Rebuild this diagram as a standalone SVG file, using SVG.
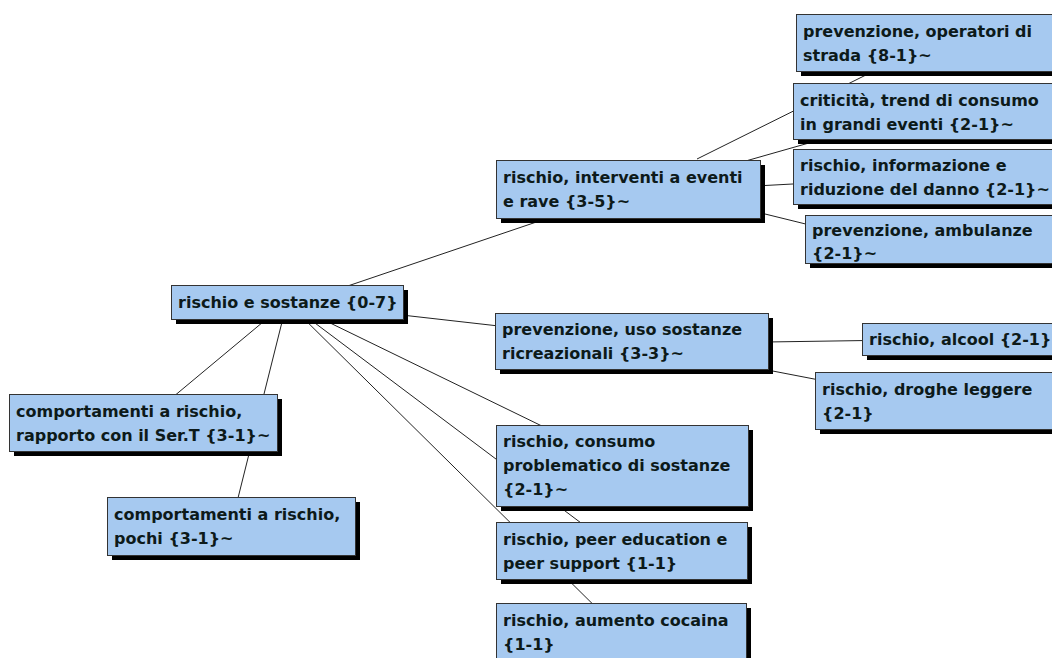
<svg xmlns="http://www.w3.org/2000/svg" width="1052" height="658" viewBox="0 0 1052 658">
  <defs>
    <style>
      .edge { stroke: #222; stroke-width: 1; fill: none; }
      .shadow { fill: #000; }
      .box { fill: #a6c9f0; stroke: #333; stroke-width: 1; }
      .label { font-family: "DejaVu Sans", Verdana, sans-serif; font-weight: bold; font-size: 16px; fill: #0d1a1a; }
    </style>
  </defs>
  <rect width="1052" height="658" fill="#fff"/>

  <!-- connectors (drawn first, nodes cover the inner parts) -->
  <g id="connectors">
    <line class="edge" x1="330" y1="292" x2="560" y2="214"/>
    <line class="edge" x1="287" y1="302" x2="631" y2="341"/>
    <line class="edge" x1="287" y1="302" x2="143" y2="422"/>
    <line class="edge" x1="287" y1="302" x2="231" y2="526"/>
    <line class="edge" x1="287" y1="302" x2="622" y2="465"/>
    <line class="edge" x1="287" y1="302" x2="617" y2="550"/>
    <line class="edge" x1="287" y1="302" x2="621" y2="632"/>
    <line class="edge" x1="697" y1="159" x2="880" y2="68"/>
    <line class="edge" x1="700" y1="174" x2="830" y2="137"/>
    <line class="edge" x1="700" y1="189" x2="830" y2="182"/>
    <line class="edge" x1="700" y1="198" x2="830" y2="230"/>
    <line class="edge" x1="700" y1="343" x2="900" y2="340"/>
    <line class="edge" x1="700" y1="357" x2="840" y2="384"/>
  </g>

  <g id="n-root">
    <rect class="shadow" x="176" y="290" width="232" height="34"/>
    <rect class="box" x="171.5" y="285.5" width="232" height="34"/>
    <text class="label" x="178" y="308">rischio e sostanze {0-7}</text>
  </g>

  <g id="n-eventi">
    <rect class="shadow" x="501" y="165" width="264" height="58"/>
    <rect class="box" x="496.5" y="160.5" width="264" height="58"/>
    <text class="label" x="503" y="183">rischio, interventi a eventi</text>
    <text class="label" x="503" y="207">e rave {3-5}~</text>
  </g>

  <g id="n-operatori">
    <rect class="shadow" x="801" y="19" width="300" height="57"/>
    <rect class="box" x="796.5" y="14.5" width="300" height="57"/>
    <text class="label" x="803" y="37">prevenzione, operatori di</text>
    <text class="label" x="803" y="61">strada {8-1}~</text>
  </g>

  <g id="n-criticita">
    <rect class="shadow" x="798" y="88" width="300" height="56"/>
    <rect class="box" x="793.5" y="83.5" width="300" height="56"/>
    <text class="label" x="800" y="106">criticità, trend di consumo</text>
    <text class="label" x="800" y="130">in grandi eventi {2-1}~</text>
  </g>

  <g id="n-informazione">
    <rect class="shadow" x="798" y="154" width="300" height="55"/>
    <rect class="box" x="793.5" y="149.5" width="300" height="55"/>
    <text class="label" x="800" y="171">rischio, informazione e</text>
    <text class="label" x="800" y="195">riduzione del danno {2-1}~</text>
  </g>

  <g id="n-ambulanze">
    <rect class="shadow" x="810" y="220" width="300" height="48"/>
    <rect class="box" x="805.5" y="215.5" width="300" height="48"/>
    <text class="label" x="812" y="236">prevenzione, ambulanze</text>
    <text class="label" x="812" y="259">{2-1}~</text>
  </g>

  <g id="n-ricreazionali">
    <rect class="shadow" x="500" y="318" width="273" height="56"/>
    <rect class="box" x="495.5" y="313.5" width="273" height="56"/>
    <text class="label" x="502" y="335">prevenzione, uso sostanze</text>
    <text class="label" x="502" y="359">ricreazionali {3-3}~</text>
  </g>

  <g id="n-alcool">
    <rect class="shadow" x="867" y="328" width="200" height="32"/>
    <rect class="box" x="862.5" y="323.5" width="200" height="32"/>
    <text class="label" x="869" y="345">rischio, alcool {2-1}</text>
  </g>

  <g id="n-droghe">
    <rect class="shadow" x="820" y="377" width="300" height="57"/>
    <rect class="box" x="815.5" y="372.5" width="300" height="57"/>
    <text class="label" x="822" y="395">rischio, droghe leggere</text>
    <text class="label" x="822" y="419">{2-1}</text>
  </g>

  <g id="n-sert">
    <rect class="shadow" x="14" y="399" width="268" height="57"/>
    <rect class="box" x="9.5" y="394.5" width="268" height="57"/>
    <text class="label" x="16" y="417">comportamenti a rischio,</text>
    <text class="label" x="16" y="441">rapporto con il Ser.T {3-1}~</text>
  </g>

  <g id="n-pochi">
    <rect class="shadow" x="112" y="502" width="248" height="58"/>
    <rect class="box" x="107.5" y="497.5" width="248" height="58"/>
    <text class="label" x="114" y="520">comportamenti a rischio,</text>
    <text class="label" x="114" y="544">pochi {3-1}~</text>
  </g>

  <g id="n-consumo">
    <rect class="shadow" x="501" y="430" width="252" height="81"/>
    <rect class="box" x="496.5" y="425.5" width="252" height="81"/>
    <text class="label" x="503" y="447">rischio, consumo</text>
    <text class="label" x="503" y="471">problematico di sostanze</text>
    <text class="label" x="503" y="495">{2-1}~</text>
  </g>

  <g id="n-peer">
    <rect class="shadow" x="501" y="527" width="251" height="57"/>
    <rect class="box" x="496.5" y="522.5" width="251" height="57"/>
    <text class="label" x="503" y="545">rischio, peer education e</text>
    <text class="label" x="503" y="569">peer support {1-1}</text>
  </g>

  <g id="n-cocaina">
    <rect class="shadow" x="501" y="608" width="250" height="70"/>
    <rect class="box" x="496.5" y="603.5" width="250" height="70"/>
    <text class="label" x="503" y="626">rischio, aumento cocaina</text>
    <text class="label" x="503" y="650">{1-1}</text>
  </g>
</svg>
